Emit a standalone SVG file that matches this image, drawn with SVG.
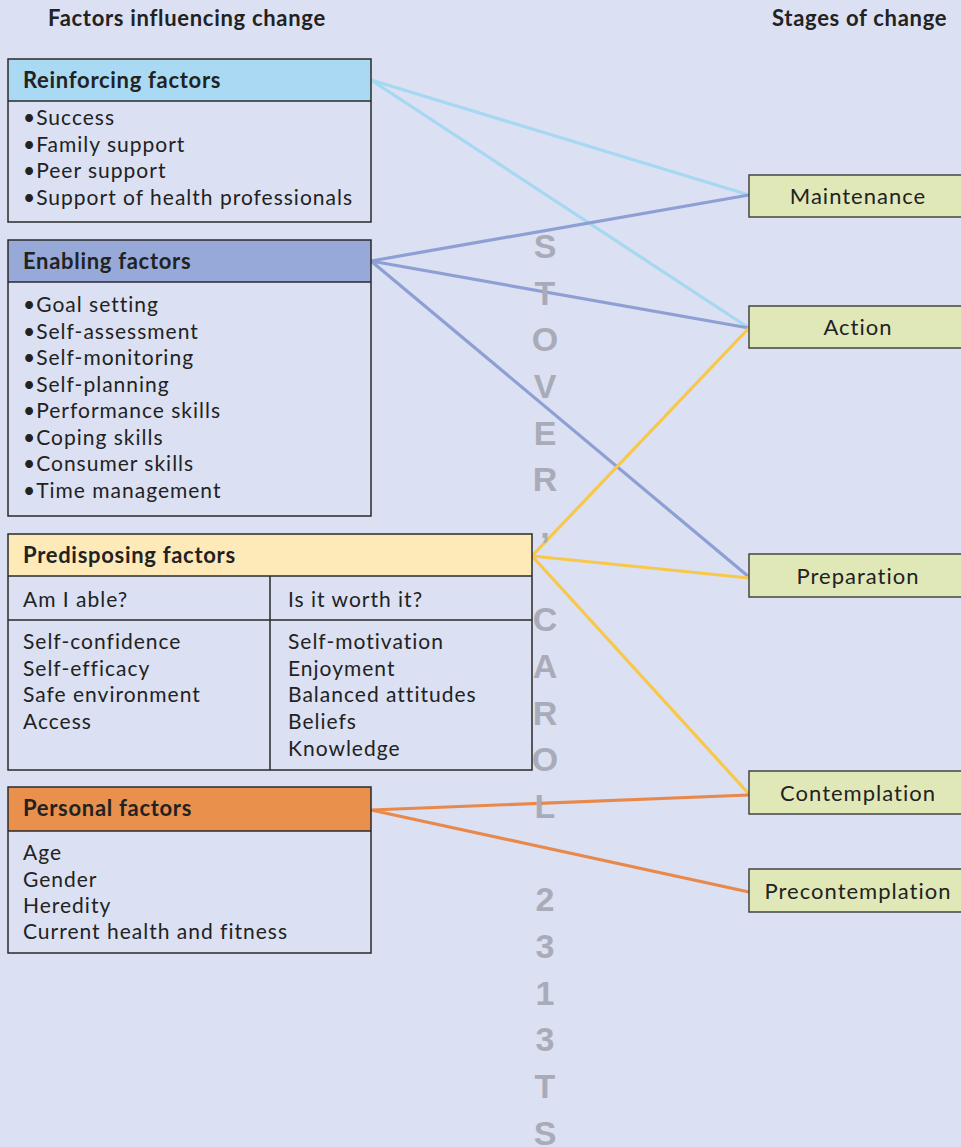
<svg xmlns="http://www.w3.org/2000/svg" width="961" height="1147" viewBox="0 0 961 1147">
<style>
.t{font-family:Lato,"Open Sans","Liberation Sans",sans-serif;font-size:21px;letter-spacing:1px;fill:#222}
.s{font-family:Lato,"Open Sans","Liberation Sans",sans-serif;font-size:22px;letter-spacing:1px;fill:#222}
.b{font-family:Lato,"Open Sans","Liberation Sans",sans-serif;font-size:22px;font-weight:bold;letter-spacing:0.7px;fill:#222}
.box{fill:none;stroke:#2a2a2a;stroke-width:1.5}
.stage{fill:#e1e8b8;stroke:#444;stroke-width:1.5}
.c{fill:none;stroke-width:3.2;stroke-linecap:round}
.wm{font-family:"Liberation Sans",Arial,sans-serif;font-size:34px;font-weight:bold;fill:#a9acb8}
</style>
<rect width="961" height="1147" fill="#dbe0f2"/>
<text class="b" x="48" y="26">Factors influencing change</text>
<text class="b" x="772" y="26">Stages of change</text>

<g id="connectors">
<path class="c" stroke="#a6d8f2" d="M371,80 L749,195 M371,80 L749,328"/>
<path class="c" stroke="#8d9fd4" d="M371,261 L749,195 M371,261 L749,328 M371,261 L749,577"/>
<path class="c" stroke="#f8c84a" d="M532,556 L749,328 M532,556 L749,578 M532,556 L749,794"/>
<path class="c" stroke="#e8884a" d="M371,810 L749,795 M371,810 L749,892"/>
</g>

<g id="watermark">
<text class="wm" text-anchor="middle"><tspan x="545" y="258">S</tspan><tspan x="545" y="305">T</tspan><tspan x="545" y="351">O</tspan><tspan x="545" y="398">V</tspan><tspan x="545" y="445">E</tspan><tspan x="545" y="491">R</tspan><tspan x="545" y="538">,</tspan><tspan x="545" y="631">C</tspan><tspan x="545" y="678">A</tspan><tspan x="545" y="725">R</tspan><tspan x="545" y="771">O</tspan><tspan x="545" y="818">L</tspan><tspan x="545" y="911">2</tspan><tspan x="545" y="958">3</tspan><tspan x="545" y="1005">1</tspan><tspan x="545" y="1051">3</tspan><tspan x="545" y="1098">T</tspan><tspan x="545" y="1145">S</tspan></text>
</g>

<g id="reinforcing">
<rect x="8" y="59" width="363" height="42" fill="#a9d9f3"/>
<rect class="box" x="8" y="59" width="363" height="163"/>
<line class="box" x1="8" y1="101" x2="371" y2="101"/>
<text class="b" x="23" y="88">Reinforcing factors</text>
<text class="t" x="23" y="125">•Success</text>
<text class="t" x="23" y="152">•Family support</text>
<text class="t" x="23" y="178">•Peer support</text>
<text class="t" x="23" y="205">•Support of health professionals</text>
</g>

<g id="enabling">
<rect x="8" y="240" width="363" height="42" fill="#97a9d8"/>
<rect class="box" x="8" y="240" width="363" height="276"/>
<line class="box" x1="8" y1="282" x2="371" y2="282"/>
<text class="b" x="23" y="269">Enabling factors</text>
<text class="t" x="23" y="312">•Goal setting</text>
<text class="t" x="23" y="339">•Self-assessment</text>
<text class="t" x="23" y="365">•Self-monitoring</text>
<text class="t" x="23" y="392">•Self-planning</text>
<text class="t" x="23" y="418">•Performance skills</text>
<text class="t" x="23" y="445">•Coping skills</text>
<text class="t" x="23" y="471">•Consumer skills</text>
<text class="t" x="23" y="498">•Time management</text>
</g>

<g id="predisposing">
<rect x="8" y="534" width="524" height="42" fill="#fee9b9"/>
<rect class="box" x="8" y="534" width="524" height="236"/>
<line class="box" x1="8" y1="576" x2="532" y2="576"/>
<line class="box" x1="8" y1="620" x2="532" y2="620"/>
<line class="box" x1="270" y1="576" x2="270" y2="770"/>
<text class="b" x="23" y="563">Predisposing factors</text>
<text class="t" x="23" y="607">Am I able?</text>
<text class="t" x="288" y="607">Is it worth it?</text>
<text class="t" x="23" y="649">Self-confidence</text>
<text class="t" x="23" y="676">Self-efficacy</text>
<text class="t" x="23" y="702">Safe environment</text>
<text class="t" x="23" y="729">Access</text>
<text class="t" x="288" y="649">Self-motivation</text>
<text class="t" x="288" y="676">Enjoyment</text>
<text class="t" x="288" y="702">Balanced attitudes</text>
<text class="t" x="288" y="729">Beliefs</text>
<text class="t" x="288" y="756">Knowledge</text>
</g>

<g id="personal">
<rect x="8" y="787" width="363" height="44" fill="#e8904c"/>
<rect class="box" x="8" y="787" width="363" height="166"/>
<line class="box" x1="8" y1="831" x2="371" y2="831"/>
<text class="b" x="23" y="816">Personal factors</text>
<text class="t" x="23" y="860">Age</text>
<text class="t" x="23" y="887">Gender</text>
<text class="t" x="23" y="913">Heredity</text>
<text class="t" x="23" y="939">Current health and fitness</text>
</g>

<g id="maintenance"><rect class="stage" x="749" y="175" width="220" height="42"/><text class="s" x="858" y="204" text-anchor="middle">Maintenance</text></g>
<g id="action"><rect class="stage" x="749" y="306" width="220" height="42"/><text class="s" x="858" y="335" text-anchor="middle">Action</text></g>
<g id="preparation"><rect class="stage" x="749" y="554" width="220" height="43"/><text class="s" x="858" y="584" text-anchor="middle">Preparation</text></g>
<g id="contemplation"><rect class="stage" x="749" y="771" width="220" height="43"/><text class="s" x="858" y="801" text-anchor="middle">Contemplation</text></g>
<g id="precontemplation"><rect class="stage" x="749" y="869" width="220" height="43"/><text class="s" x="858" y="899" text-anchor="middle">Precontemplation</text></g>
</svg>
